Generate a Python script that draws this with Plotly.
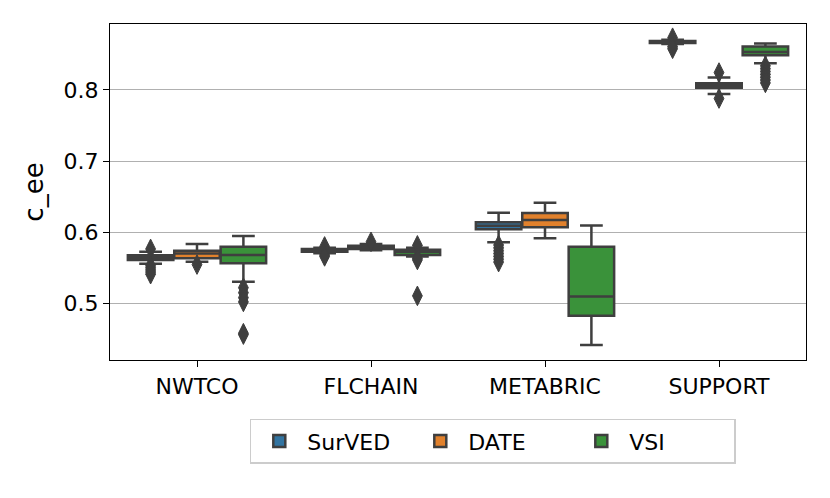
import plotly.graph_objects as go

# ---------------- data ----------------
categories = ["NWTCO", "FLCHAIN", "METABRIC", "SUPPORT"]
methods = ["SurVED", "DATE", "VSI"]
method_colors = ["#3274a1", "#e1812c", "#3a923a"]

survd_lower = [0.5555, 0.5705, 0.586, 0.8645]
survd_q1 = [0.561, 0.5725, 0.604, 0.866]
survd_median = [0.564, 0.5745, 0.609, 0.8675]
survd_q3 = [0.5675, 0.5765, 0.614, 0.869]
survd_upper = [0.5725, 0.578, 0.6275, 0.8705]
survd_outliers = [
    [0.5765, 0.553, 0.550, 0.547, 0.544, 0.541],
    [0.580, 0.568, 0.566],
    [0.582, 0.578, 0.574, 0.570, 0.566, 0.562, 0.558],
    [0.8735, 0.861, 0.858],
]

date_lower = [0.5585, 0.5745, 0.5915, 0.7945]
date_q1 = [0.5635, 0.5765, 0.607, 0.803]
date_median = [0.570, 0.579, 0.617, 0.806]
date_q3 = [0.574, 0.581, 0.627, 0.8095]
date_upper = [0.5835, 0.5835, 0.6415, 0.8175]
date_outliers = [
    [0.5545],
    [0.5865],
    [],
    [0.8245, 0.788],
]

vsi_lower = [0.5305, 0.566, 0.4415, 0.8375]
vsi_q1 = [0.5565, 0.568, 0.4825, 0.849]
vsi_median = [0.568, 0.5725, 0.5095, 0.8535]
vsi_q3 = [0.5795, 0.5755, 0.5795, 0.861]
vsi_upper = [0.5945, 0.578, 0.6095, 0.8655]
vsi_outliers = [
    [0.522, 0.515, 0.508, 0.502, 0.458, 0.456],
    [0.5815, 0.5635, 0.561, 0.5105],
    [],
    [0.834, 0.830, 0.826, 0.822, 0.818, 0.814, 0.810],
]

y_ticks = [0.5, 0.6, 0.7, 0.8]

# ---------------- figure ----------------
stats = [
    (survd_lower, survd_q1, survd_median, survd_q3, survd_upper, survd_outliers),
    (date_lower, date_q1, date_median, date_q3, date_upper, date_outliers),
    (vsi_lower, vsi_q1, vsi_median, vsi_q3, vsi_upper, vsi_outliers),
]

n_hue = len(methods)
group_width = 0.8
slot = group_width / n_hue
box_width = slot * 0.98
offsets = [-group_width / 2 + slot * (k + 0.5) for k in range(n_hue)]

edge = "#3f3f3f"
fig = go.Figure()

for k, (name, color, st) in enumerate(zip(methods, method_colors, stats)):
    lo, q1, med, q3, up, outs = st
    xs = [i + offsets[k] for i in range(len(categories))]
    fig.add_trace(go.Box(
        name=name,
        x=xs,
        q1=q1, median=med, q3=q3, lowerfence=lo, upperfence=up,
        width=box_width,
        whiskerwidth=0.5,
        fillcolor=color,
        line=dict(color=edge, width=2.5),
        boxpoints=False,
        hoverinfo="skip",
        legendgroup=name,
    ))
    ox, oy = [], []
    for i, vals in enumerate(outs):
        for v in vals:
            ox.append(i + offsets[k])
            oy.append(v)
    fig.add_trace(go.Scatter(
        x=ox, y=oy, mode="markers",
        marker=dict(symbol="diamond-tall", size=14, color=edge,
                    line=dict(color=edge, width=1)),
        showlegend=False, legendgroup=name, hoverinfo="skip",
    ))

fig.update_layout(
    width=822, height=490,
    margin=dict(l=102, r=24, t=16, b=138, autoexpand=False),
    paper_bgcolor="white", plot_bgcolor="white",
    font=dict(family="DejaVu Sans", size=22, color="black"),
    boxmode="overlay",
    showlegend=True,
    legend=dict(
        orientation="h",
        x=0.55, xanchor="center",
        y=-0.175, yanchor="top",
        bordercolor="#cccccc", borderwidth=1.5,
        font=dict(size=22),
        itemwidth=46,
        entrywidth=100, entrywidthmode="pixels",
        traceorder="normal",
    ),
)

fig.update_xaxes(
    range=[-0.5, len(categories) - 0.5],
    tickmode="array",
    tickvals=list(range(len(categories))),
    ticktext=categories,
    showline=True, linecolor="black", linewidth=1.3, mirror=True,
    ticks="outside", ticklen=6, tickwidth=1.3, tickcolor="black",
    showgrid=False, zeroline=False,
)
fig.update_yaxes(
    range=[0.4203, 0.8928],
    tickmode="array",
    tickvals=y_ticks,
    ticktext=[f"{v:.1f}" for v in y_ticks],
    title=dict(text="c_ee", standoff=12),
    showline=True, linecolor="black", linewidth=1.3, mirror=True,
    ticks="outside", ticklen=6, tickwidth=1.3, tickcolor="black",
    showgrid=True, gridcolor="#b0b0b0", gridwidth=1.3,
    zeroline=False,
)

fig.write_html("out.html")
